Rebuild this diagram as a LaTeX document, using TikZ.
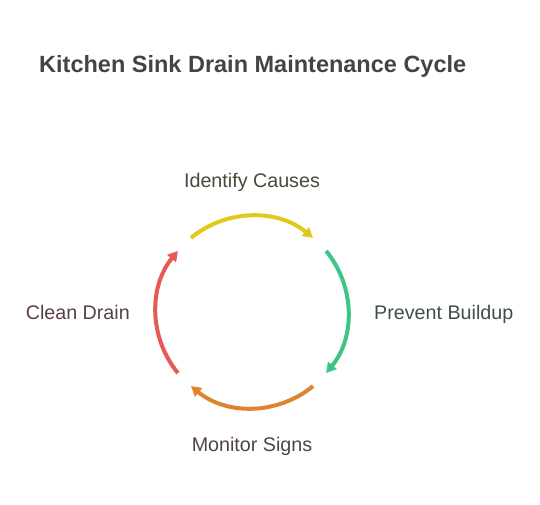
\documentclass[tikz,border=0pt]{standalone}
\usepackage{fontspec}
\setmainfont{Liberation Sans}
\usetikzlibrary{arrows.meta}
\definecolor{cyel}{HTML}{E2C81C}
\definecolor{cgrn}{HTML}{3EC486}
\definecolor{corg}{HTML}{E08330}
\definecolor{cred}{HTML}{E45A56}
\definecolor{ttl}{HTML}{444444}
\definecolor{tyel}{HTML}{4A4838}
\definecolor{tgrn}{HTML}{3E4F48}
\definecolor{torg}{HTML}{4F4440}
\definecolor{tred}{HTML}{5A3F40}
\begin{document}
\begin{tikzpicture}[x=1pt,y=1pt,
  arcline/.style={line width=4pt,-{Triangle[length=10pt,width=11pt]}},
  lbl/.style={inner sep=0pt,font=\fontsize{19.7}{22}\selectfont}]
\useasboundingbox (0,0) rectangle (540,505);
\node[anchor=west,inner sep=0pt,text=ttl,font=\fontsize{23.5}{26}\selectfont\bfseries] (title) at (39,439) {Kitchen Sink Drain Maintenance Cycle};
\coordinate (c) at (252,193);
\def\R{96}
\draw[arcline,cyel] ([shift={(129.5:\R)}]c) arc[start angle=129.5,end angle=50.5,radius=\R];
\draw[arcline,cgrn] ([shift={(39.5:\R)}]c) arc[start angle=39.5,end angle=-39.5,radius=\R];
\draw[arcline,corg] ([shift={(-50.5:\R)}]c) arc[start angle=-50.5,end angle=-129.5,radius=\R];
\draw[arcline,cred] ([shift={(-140.5:\R)}]c) arc[start angle=-140.5,end angle=-219.5,radius=\R];
\node[lbl,text=tyel] (idc) at (252,323) {Identify Causes};
\node[lbl,text=tgrn,anchor=west] (pb) at (374,191) {Prevent Buildup};
\node[lbl,text=torg] (ms) at (252,59) {Monitor Signs};
\node[lbl,text=tred,anchor=east] (cd) at (130,193) {Clean Drain};
\end{tikzpicture}
\end{document}
